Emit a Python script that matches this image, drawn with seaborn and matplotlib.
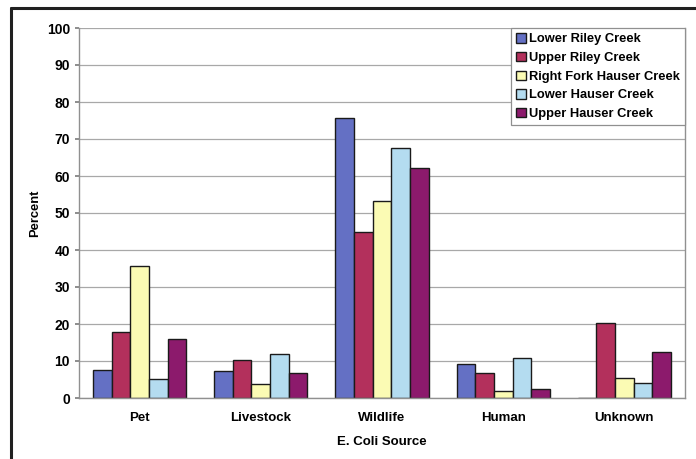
import matplotlib
matplotlib.use("Agg")
import matplotlib.pyplot as plt
import matplotlib.lines as mlines
import seaborn as sns
import pandas as pd

categories = ["Pet", "Livestock", "Wildlife", "Human", "Unknown"]
sites = ["Lower Riley Creek", "Upper Riley Creek", "Right Fork Hauser Creek",
         "Lower Hauser Creek", "Upper Hauser Creek"]
lower_riley = [7.6, 7.4, 75.8, 9.1, 0.0]
upper_riley = [17.9, 10.2, 44.8, 6.8, 20.2]
right_fork_hauser = [35.8, 3.7, 53.2, 2.0, 5.4]
lower_hauser = [5.2, 11.8, 67.6, 10.9, 4.1]
upper_hauser = [16.0, 6.7, 62.2, 2.5, 12.3]
y_ticks = [0, 10, 20, 30, 40, 50, 60, 70, 80, 90, 100]

colors = ["#6470c4", "#b3305c", "#fbfbb4", "#b4dcf0", "#8c1a6c"]

series = [lower_riley, upper_riley, right_fork_hauser, lower_hauser, upper_hauser]
rows = []
for site, vals in zip(sites, series):
    for cat, v in zip(categories, vals):
        rows.append({"Source": cat, "Site": site, "Percent": v})
df = pd.DataFrame(rows)

sns.set_theme(style="white")
plt.rcParams["font.family"] = ["Liberation Sans", "DejaVu Sans"]
plt.rcParams["font.weight"] = "bold"
plt.rcParams["text.color"] = "black"
plt.rcParams["axes.labelcolor"] = "black"
plt.rcParams["xtick.color"] = "black"
plt.rcParams["ytick.color"] = "black"

fig = plt.figure(figsize=(6.96, 4.59), dpi=100)
fig.patch.set_facecolor("white")
ax = fig.add_axes([79 / 696, 1 - 398 / 459, (685 - 79) / 696, (398 - 28) / 459])

sns.barplot(data=df, x="Source", y="Percent", hue="Site", hue_order=sites,
            order=categories, palette=colors, width=0.77, saturation=1,
            edgecolor="#1a1a1a", linewidth=1.0, ax=ax, legend=True)

ax.set_ylim(0, 100)
ax.set_yticks(y_ticks)
ax.set_yticklabels([str(t) for t in y_ticks], fontsize=10, fontweight="bold")
for lab in ax.get_xticklabels():
    lab.set_fontsize(9.5)
    lab.set_fontweight("bold")
ax.yaxis.grid(True, color="#a8a8a8", linewidth=0.9)
ax.set_axisbelow(True)
for side in ["left", "bottom", "right", "top"]:
    ax.spines[side].set_visible(True)
    ax.spines[side].set_color("#909090")
    ax.spines[side].set_linewidth(1.0)
ax.spines["top"].set_visible(False)
ax.tick_params(axis="y", length=3, color="#808080", labelcolor="black", pad=3.5, left=True)
ax.tick_params(axis="x", length=0, labelcolor="black", pad=10)

ax.set_xlabel("E. Coli Source", fontsize=9.5, fontweight="bold", labelpad=9, color="black")
ax.set_ylabel("Percent", fontsize=9.3, fontweight="bold", labelpad=4, color="black")

leg = ax.legend(loc="upper right", bbox_to_anchor=(1.0, 1.0), frameon=True,
                fancybox=False, framealpha=1, edgecolor="#909090",
                prop={"size": 9.3, "weight": "bold"}, handlelength=0.75,
                handleheight=0.75, handletextpad=0.25, labelspacing=0.5,
                borderpad=0.4, borderaxespad=0)
leg.get_frame().set_linewidth(0.9)
for t in leg.get_texts():
    t.set_color("black")

# outer frame lines (top and left)
fig.add_artist(mlines.Line2D([11 / 696, 1.0], [1 - 8 / 459, 1 - 8 / 459],
                             transform=fig.transFigure, color="#202020", linewidth=2.2))
fig.add_artist(mlines.Line2D([11 / 696, 11 / 696], [0.0, 1 - 8 / 459],
                             transform=fig.transFigure, color="#202020", linewidth=2.2))

fig.savefig("out.png", dpi=100)
